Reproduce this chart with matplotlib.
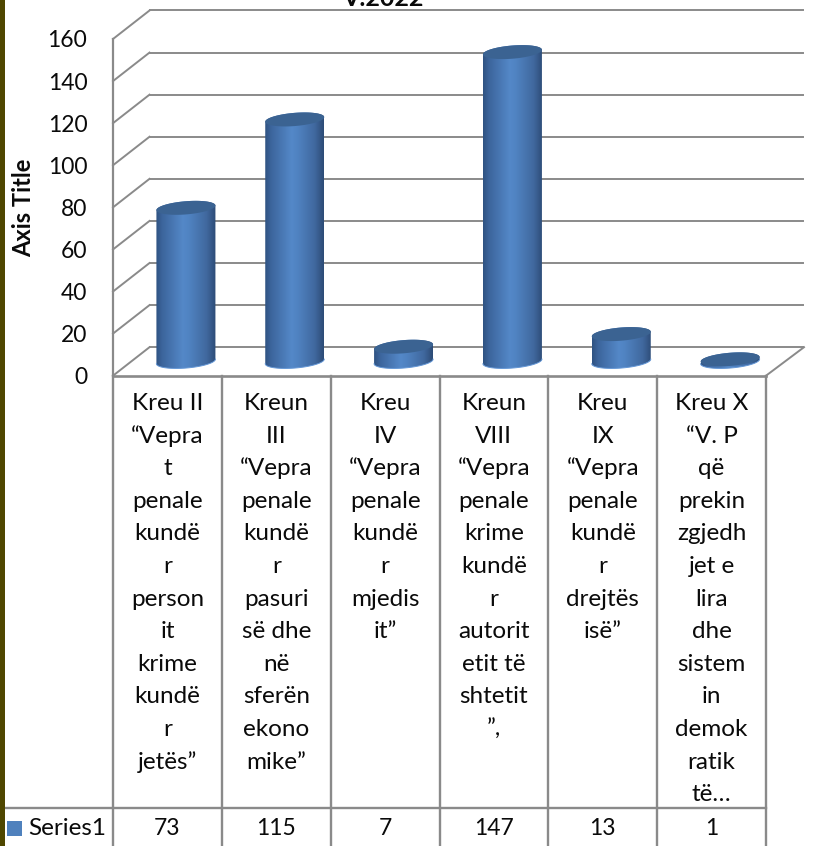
import matplotlib
matplotlib.use("Agg")
import matplotlib.pyplot as plt
import numpy as np
from matplotlib.patches import Polygon, Rectangle
from matplotlib.transforms import Affine2D
from matplotlib.colors import to_rgb

series_name = "Series1"
values = [73, 115, 7, 147, 13, 1]
y_ticks = [0, 20, 40, 60, 80, 100, 120, 140, 160]
categories = [
    ["Kreu II", "“Vepra", "t", "penale", "kundë", "r", "person", "it", "krime", "kundë", "r", "jetës”"],
    ["Kreun", "III", "“Vepra", "penale", "kundë", "r", "pasuri", "së dhe", "në", "sferën", "ekono", "mike”"],
    ["Kreu", "IV", "“Vepra", "penale", "kundë", "r", "mjedis", "it”"],
    ["Kreun", "VIII", "“Vepra", "penale", "krime", "kundë", "r", "autorit", "etit të", "shtetit", "”,"],
    ["Kreu", "IX", "“Vepra", "penale", "kundë", "r", "drejtës", "isë”"],
    ["Kreu X", "“V. P", "që", "prekin", "zgjedh", "jet e", "lira", "dhe", "sistem", "in", "demok", "ratik", "të…"],
]

W, H = 838, 846
X0, X1 = 113, 766      # front of the floor, pixels
Y0, Y160 = 375.7, 39   # value 0 and 160 on the front edge
DX, DY = 36.5, 28.5    # depth of the box
GREY = "#8a8a8a"
INK = "#0a0a0a"

plt.rcParams["font.family"] = ["Lato", "DejaVu Sans"]

fig = plt.figure(figsize=(W / 100, H / 100), dpi=100, facecolor="white")
ax = fig.add_axes([X0 / W, 1 - Y0 / H, (X1 - X0) / W, (Y0 - Y160) / H])
ax.set_xlim(0, len(values))
ax.set_ylim(0, 160)
ax.patch.set_visible(False)

px_x = (X1 - X0) / len(values)  # pixels per category
px_y = (Y0 - Y160) / 160        # pixels per unit


def row_y(py):
    # pixel row below the plot -> data units
    return (Y0 - py) / px_y


def col_x(px):
    return (px - X0) / px_x


back = ax.transData + Affine2D().translate(DX, DY)
mid = ax.transData + Affine2D().translate(18.5, DY / 2)

# walls
for t in y_ticks:
    ax.plot([0, len(values)], [t, t], color=GREY, lw=1.4, transform=back, clip_on=False, zorder=1)
    x_in = [X0, X0 + DX]
    y_in = [H - (Y0 - t * px_y), H - (Y0 - t * px_y) + DY]
    ax.plot(x_in, y_in, color=GREY, lw=1.4, transform=None, clip_on=False, zorder=1)
x_end = [X1, X1 + DX + 1.5]
ax.plot(x_end, [H - Y0, H - Y0 + DY], color=GREY, lw=1.4, transform=None, clip_on=False, zorder=1)

# cylinders
stops = [0, 0.1, 0.45, 0.55, 0.85, 1]
shades = ["#2f5282", "#3c659c", "#5488c8", "#5083c2", "#40689e", "#2d4b76"]
rgb = np.array([to_rgb(c) for c in shades])
grad_x = np.linspace(0, 1, 128)
grad = np.stack([np.interp(grad_x, stops, rgb[:, k]) for k in range(3)], axis=-1)[None, :, :]

half_w = 29.5 / px_x
tilt = 2.3 / px_y
rise = 6.6 / px_y


def ellipse(cx, v, t):
    return cx + half_w * np.cos(t), v + tilt * np.cos(t) + rise * np.sin(t)


for i, v in enumerate(values):
    cx = i + 0.5
    low_x, low_y = ellipse(cx, 0, np.linspace(np.pi, 2 * np.pi, 60))
    up_x, up_y = ellipse(cx, v, np.linspace(0, np.pi, 60))
    body = np.column_stack([np.r_[low_x, up_x], np.r_[low_y, up_y]])
    clip = Polygon(body, closed=True, transform=mid, facecolor="none", edgecolor="none")
    ax.add_patch(clip)
    clip.set_clip_on(False)
    im = ax.imshow(grad, extent=[cx - half_w, cx + half_w, -10, v + 10], aspect="auto",
                   transform=mid, zorder=3, interpolation="bilinear")
    im.set_clip_path(clip)
    ax.plot(low_x, low_y, color="#6497d6", lw=0.7, transform=mid, clip_on=False, zorder=3.1)
    top_t = np.linspace(0, 2 * np.pi, 120)
    top_x, top_y = ellipse(cx, v, top_t)
    ax.fill(top_x, top_y, color="#3b6392", transform=mid, clip_on=False, zorder=4, lw=0)

ax.set_xlim(0, len(values))
ax.set_ylim(0, 160)

# axis
for name in ["top", "right", "bottom"]:
    ax.spines[name].set_visible(False)
ax.spines["left"].set_color(GREY)
ax.spines["left"].set_linewidth(1.6)
ax.set_xticks([])
ax.set_yticks(y_ticks)
ax.tick_params(axis="y", length=0, pad=18.5, labelsize=16.5, labelcolor=INK)
ax.set_ylabel("Axis Title", fontsize=17, fontweight="bold", color=INK)
ax.yaxis.set_label_coords((35 - X0) / (X1 - X0), (Y0 - 208) / (Y0 - Y160))

# data table under the plot
bottom = row_y(H)
for i in range(len(values) + 1):
    ax.plot([i, i], [0, bottom], color=GREY, lw=1.7, clip_on=False, zorder=2)
ax.plot([0, len(values)], [0, 0], color=GREY, lw=1.9, clip_on=False, zorder=2)
ax.plot([col_x(5), len(values)], [row_y(808), row_y(808)], color=GREY, lw=1.7, clip_on=False, zorder=2)

BASE = 410
STEP = 32.6
for i, lines in enumerate(categories):
    for j, line in enumerate(lines):
        ax.text(i + 0.5, row_y(BASE + j * STEP), line, ha="center", va="baseline",
                fontsize=17.5, color=INK)
for i, v in enumerate(values):
    ax.text(i + 0.5, row_y(835), str(v), ha="center", va="baseline", fontsize=16.5, color=INK)
ax.text(col_x(28), row_y(835), series_name, ha="left", va="baseline", fontsize=17.5, color=INK)
ax.add_patch(Rectangle((col_x(7), row_y(836)), 15 / px_x, 15 / px_y, facecolor="#4f81bd",
                       edgecolor="none", clip_on=False))

# title is cut off by the top of the image
ax.text(col_x(383), row_y(6), "V.2022", ha="center", va="baseline", fontsize=18,
        fontweight="bold", color=INK)

# olive strip on the left edge
fig.add_artist(Rectangle((0, 0), 5 / W, 1, transform=fig.transFigure, facecolor="#4f4700", edgecolor="none"))

fig.savefig("out.png", dpi=100)
